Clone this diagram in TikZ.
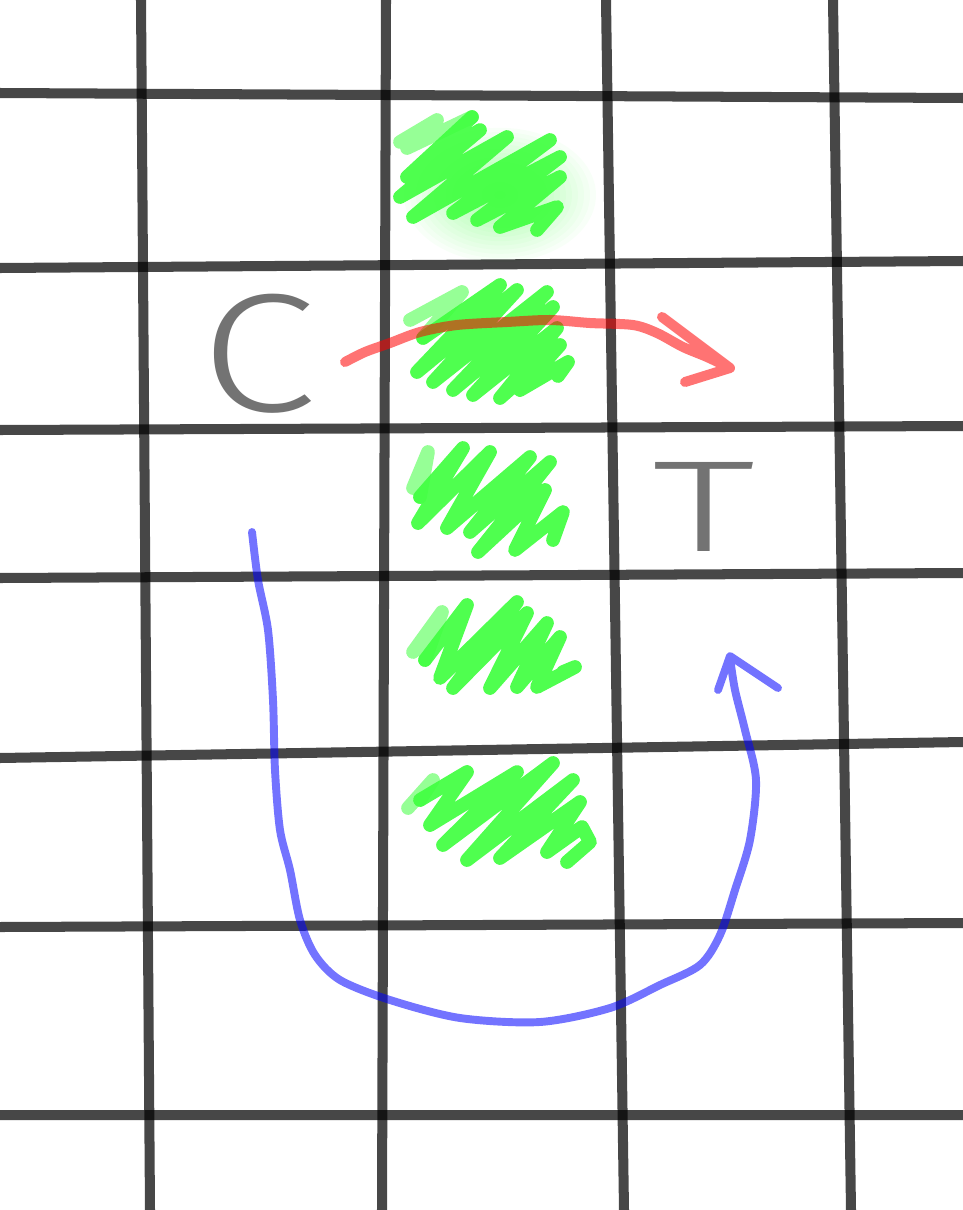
\documentclass[tikz,border=0pt]{standalone}
\usepackage{fontspec}
\newfontfamily\handfont{Fira Sans Light}
\definecolor{marker}{RGB}{64,255,64}
\tikzset{
  gridline/.style={black, opacity=0.72, line width=5.7pt},
  scribble/.style={marker, opacity=0.92, line width=7.8pt, line cap=round, line join=round},
  faint/.style={scribble, opacity=0.55},
  pen/.style={opacity=0.55, line cap=round, line join=round},
  letter/.style={text=black!55, inner sep=0pt},
}
\begin{document}
\begin{tikzpicture}[x=0.02cm, y=-0.02cm]
\useasboundingbox (0,0) rectangle (963,1210);
% glow behind the top patch
\foreach \r in {1,...,16}
  \fill[marker, opacity=0.035] (500,195) ellipse ({\r*6} and {\r*4.2});
% grid
\draw[gridline] (0,93) -- (963,98) (0,268) -- (963,261) (0,430) -- (963,426)
      (0,578) -- (963,573) (0,758) -- (963,742) (0,927) -- (963,923)
      (0,1115) -- (963,1115);
\draw[gridline] (141,0) -- (150,1210) (386,0) -- (382,1210)
      (606,0) -- (624,1210) (833,0) -- (851,1210);
% green patches
\draw[faint] (400,142) -- (437,120) -- (407,148) -- (472,117);
\draw[scribble] (472,117) -- (407,177) -- (480,130) -- (400,197) -- (507,137)
      -- (413,217) -- (550,140) -- (453,213) -- (560,157) -- (477,220)
      -- (560,177) -- (500,227) -- (557,207) -- (537,230);
\draw[faint] (410,320) -- (462,292) -- (423,338);
\draw[scribble] (423,338) -- (500,285) -- (417,372) -- (517,290) -- (433,382)
      -- (547,292) -- (453,390) -- (553,307) -- (473,395) -- (557,328)
      -- (500,398) -- (560,345) -- (520,390) -- (568,362) -- (558,376);
\draw[faint] (413,488) -- (428,452) -- (420,497);
\draw[scribble] (420,497) -- (463,448) -- (418,523) -- (490,452) -- (447,528)
      -- (530,457) -- (470,532) -- (550,462) -- (478,552) -- (545,490)
      -- (515,550) -- (563,512) -- (553,540);
\draw[faint] (413,652) -- (442,612) -- (425,660);
\draw[scribble] (425,660) -- (467,605) -- (440,678) -- (517,602) -- (453,688)
      -- (527,613) -- (490,688) -- (547,623) -- (517,687) -- (560,637)
      -- (537,687) -- (575,667) -- (563,672);
\draw[faint] (408,808) -- (433,780) -- (420,800);
\draw[scribble] (420,800) -- (467,772) -- (430,825) -- (517,772) -- (443,845)
      -- (553,763) -- (467,860) -- (573,780) -- (500,858) -- (580,802)
      -- (547,852) -- (582,827) -- (590,842) -- (567,862);
% letters
\node[letter, font=\handfont\fontsize{96}{96}\selectfont, xscale=1.25] (C) at (258,354) {C};
\node[letter, font=\handfont\fontsize{74}{74}\selectfont, xscale=1.6] (T) at (704,507) {T};
% red arrow
\draw[pen, red, line width=5.7pt]
  plot[smooth] coordinates {(345,362) (365,352) (390,343) (420,332) (457,325)
      (507,322) (550,320) (590,323) (633,325) (657,333) (683,347) (707,357) (730,368)}
  (662,317) -- (730,368) -- (685,382);
% blue arrow
\draw[pen, blue, line width=4.5pt]
  plot[smooth] coordinates {(252,532) (258,580) (268,630) (273,700) (275,770)
      (280,830) (290,870) (300,920) (315,955) (340,980) (390,1000) (460,1018)
      (540,1022) (610,1008) (660,985) (700,965) (720,935) (735,890) (750,840)
      (756,780) (745,730) (735,690) (730,658)}
  (718,690) -- (730,656) -- (778,688);
\end{tikzpicture}
\end{document}
